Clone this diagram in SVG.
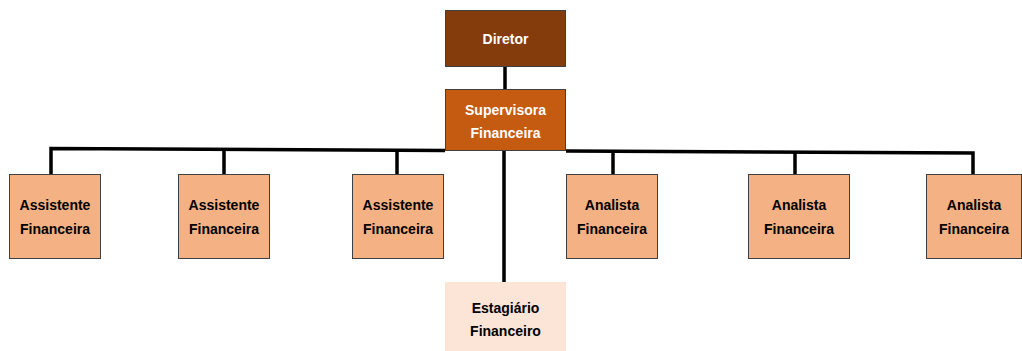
<svg xmlns="http://www.w3.org/2000/svg" width="1022" height="351" viewBox="0 0 1022 351">
<style>
.t{font-family:"Liberation Sans",Arial,sans-serif;font-weight:bold;font-size:14px;text-anchor:middle;dominant-baseline:central}
.w{fill:#ffffff}
.k{fill:#000000}
.box{fill:#F4B183;stroke:#404040;stroke-width:1}
.c{stroke:#000;stroke-width:3.5;fill:none}
</style>
<rect width="1022" height="351" fill="#ffffff"/>
<g id="connectors">
<line class="c" x1="505" y1="67" x2="505" y2="89"/>
<polyline class="c" points="51,174 51,148.5 445,150.5"/>
<line class="c" x1="224" y1="149.5" x2="224" y2="174"/>
<line class="c" x1="397" y1="150" x2="397" y2="174"/>
<polyline class="c" points="566,151 973,153 973,174"/>
<line class="c" x1="613" y1="151.5" x2="613" y2="174"/>
<line class="c" x1="795" y1="152" x2="795" y2="174"/>
<line class="c" x1="504" y1="151" x2="504" y2="282"/>
</g>
<g id="diretor">
<rect x="445.5" y="10.5" width="120" height="56" fill="#843C0C" stroke="#404040" stroke-width="1"/>
<text class="t w" x="505.5" y="39">Diretor</text>
</g>
<g id="supervisora">
<rect x="445.5" y="89.5" width="120" height="61" fill="#C55A11" stroke="#404040" stroke-width="1"/>
<text class="t w" x="505.5" y="110">Supervisora</text>
<text class="t w" x="505.5" y="133">Financeira</text>
</g>
<g id="assistente1">
<rect class="box" x="9.5" y="174.5" width="91" height="84"/>
<text class="t k" x="55" y="205">Assistente</text>
<text class="t k" x="55" y="229">Financeira</text>
</g>
<g id="assistente2">
<rect class="box" x="178.5" y="174.5" width="91" height="84"/>
<text class="t k" x="224" y="205">Assistente</text>
<text class="t k" x="224" y="229">Financeira</text>
</g>
<g id="assistente3">
<rect class="box" x="352.5" y="174.5" width="91" height="84"/>
<text class="t k" x="398" y="205">Assistente</text>
<text class="t k" x="398" y="229">Financeira</text>
</g>
<g id="analista1">
<rect class="box" x="566.5" y="174.5" width="91" height="84"/>
<text class="t k" x="612" y="205">Analista</text>
<text class="t k" x="612" y="229">Financeira</text>
</g>
<g id="analista2">
<rect class="box" x="748.5" y="174.5" width="101" height="84"/>
<text class="t k" x="799" y="205">Analista</text>
<text class="t k" x="799" y="229">Financeira</text>
</g>
<g id="analista3">
<rect class="box" x="926.5" y="174.5" width="95" height="84"/>
<text class="t k" x="974" y="205">Analista</text>
<text class="t k" x="974" y="229">Financeira</text>
</g>
<g id="estagiario">
<rect x="445" y="282" width="121" height="69" fill="#FCE4D6"/>
<text class="t k" x="505.5" y="308">Estagiário</text>
<text class="t k" x="505.5" y="331">Financeiro</text>
</g>
</svg>
